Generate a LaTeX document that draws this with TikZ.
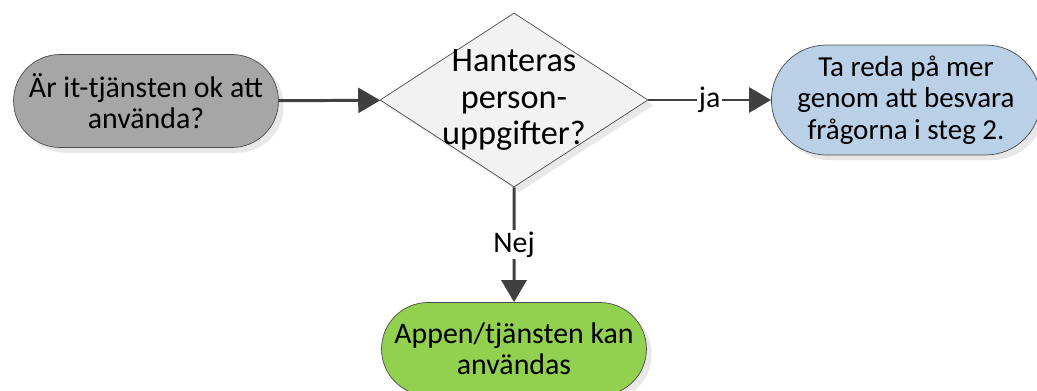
\documentclass[tikz,border=0pt]{standalone}
\usepackage{fontspec}
\setmainfont{Carlito}
\usetikzlibrary{shapes.geometric,shapes.misc,arrows.meta,shadows}

\definecolor{startgray}{HTML}{A6A6A6}
\definecolor{questiongray}{HTML}{F2F2F2}
\definecolor{infoblue}{HTML}{B9D0E6}
\definecolor{okgreen}{HTML}{92D050}
\definecolor{flowline}{HTML}{404040}

\begin{document}
\begin{tikzpicture}[x=0.02cm, y=-0.02cm,
  every node/.style={font=\fontsize{17}{17.5}\selectfont, align=center},
  terminal/.style={shape=rounded rectangle, draw=black!70, thin, inner sep=2pt,
    minimum width=5.44cm, minimum height=1.86cm,
    drop shadow={opacity=0.18, shadow xshift=3pt, shadow yshift=-3pt}},
  question/.style={shape=diamond, draw=black!70, thin, fill=questiongray,
    aspect=1.54, inner sep=-30pt, minimum width=5.36cm, minimum height=3.48cm,
    font=\fontsize{19.5}{21}\selectfont,
    drop shadow={opacity=0.18, shadow xshift=3pt, shadow yshift=-3pt}},
  flow/.style={draw=flowline, line width=1.7pt,
    -{Triangle[length=0.44cm, width=0.5cm]}},
  answer/.style={fill=white, inner sep=1pt}]
\useasboundingbox (0,0) rectangle (1037,391);

\node[terminal, fill=startgray] (start) at (146,101) {Är it-tjänsten ok att\\använda?};
\node[question] (person) at (514,100) {Hanteras\\person-\\uppgifter?};
\node[terminal, fill=infoblue, minimum width=5.34cm, minimum height=2.2cm,
  font=\fontsize{16.5}{18}\selectfont] (info) at (906,100)
  {Ta reda på mer\\genom att besvara\\frågorna i steg 2.};
\node[terminal, fill=okgreen] (ok) at (514,349) {Appen/tjänsten kan\\användas};

\draw[flow] (start) -- (person);
\draw[flow] (person) -- node[answer] {ja} (info);
\draw[flow] (person) -- node[answer] {Nej} (ok);
\end{tikzpicture}
\end{document}
